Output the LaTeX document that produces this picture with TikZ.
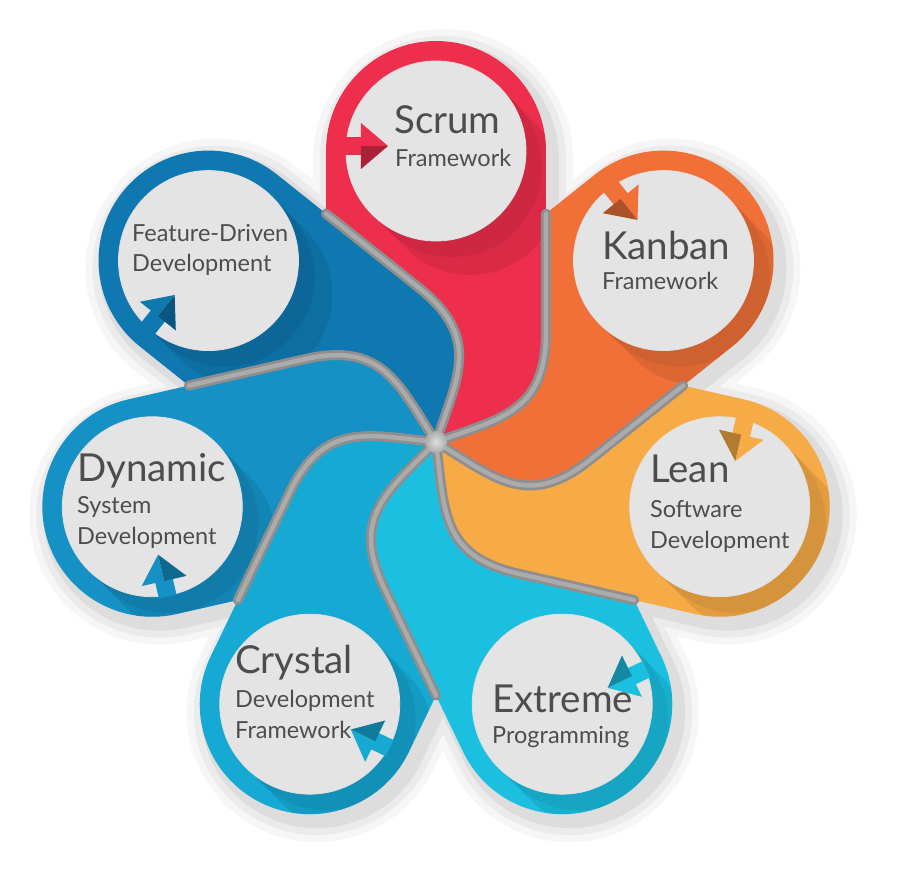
\documentclass[tikz,border=0pt]{standalone}
\usepackage{fontspec}
\setmainfont{Lato}
\usetikzlibrary{calc}
\definecolor{cScrum}{HTML}{EE2E4D}
\definecolor{cKanban}{HTML}{F07038}
\definecolor{cLean}{HTML}{F7AB46}
\definecolor{cExtreme}{HTML}{1BC0E1}
\definecolor{cCrystal}{HTML}{15A9D4}
\definecolor{cDynamic}{HTML}{1591C5}
\definecolor{cFDD}{HTML}{0F78B0}
\definecolor{circfill}{HTML}{E4E4E4}
\definecolor{sepgray}{HTML}{8E8E8E}
\definecolor{seplight}{HTML}{ABABAB}
\definecolor{txt}{HTML}{4D4D4D}
\newcommand\petalshape{(0,0) .. controls (22.4,66.6) and (45.1,104.7) .. (-17.4,154.6) -- (-110,228.4) -- (-110,291) arc[start angle=180,end angle=0,radius=110] -- (110,110) .. controls (110,30) and (66,24) .. (0,0) -- cycle}
\newcommand\sepline{(110,228.4) -- (110,110) .. controls (110,30) and (66,24) .. (0,0)}
\tikzset{
  title/.style={anchor=base west, inner sep=0pt, text=txt, font=\fontsize{38.5}{42}\selectfont},
  sub/.style={anchor=base west, inner sep=0pt, text=txt, font=\fontsize{23.5}{27}\selectfont},
  disc/.style={circle, fill=circfill, draw=black!12, line width=0.8pt, minimum size=180pt, inner sep=0pt},
  sepdark/.style={draw=sepgray, line width=10pt, line cap=round},
  seplite/.style={draw=seplight, line width=4.5pt, line cap=round},
}
\begin{document}
\begin{tikzpicture}[x=1pt,y=1pt]
\useasboundingbox (-436,-447) rectangle (467,442);
\fill[white] (-436,-447) rectangle (467,442);
\foreach \k in {0,...,6} \coordinate (c\k) at ({90-\k*360/7}:291);
% soft outer shadow
\foreach \w/\o in {40/0.035, 26/0.045, 12/0.06} {
  \begin{scope}[transparency group, opacity=\o, shift={(7,-8)}]
    \foreach \k in {0,...,6} \filldraw[black, line width=\w pt, line join=round, rotate=-\k*360/7] \petalshape;
  \end{scope}
}
% petals
\foreach \k/\c in {0/cScrum,1/cKanban,2/cLean,3/cExtreme,4/cCrystal,5/cDynamic,6/cFDD}
  \fill[\c, rotate=-\k*360/7] \petalshape;
% long shadows of the discs
\foreach \k/\c in {0/cScrum,1/cKanban,2/cLean,3/cExtreme,4/cCrystal,5/cDynamic,6/cFDD} {
  \begin{scope}
    \clip[rotate=-\k*360/7] \petalshape;
    \fill[\c!72!black, opacity=0.28] ($(c\k)+(45:90)$) -- ++(34,-34) arc[start angle=45,end angle=-135,radius=90] -- ($(c\k)+(225:90)$) -- cycle;
    \fill[\c!72!black, opacity=0.28] ($(c\k)+(45:90)$) -- ++(16,-16) arc[start angle=45,end angle=-135,radius=90] -- ($(c\k)+(225:90)$) -- cycle;
  \end{scope}
}
% separators
\foreach \k in {0,...,6} \draw[sepdark, rotate=-\k*360/7] \sepline;
\foreach \k in {0,...,6} \draw[seplite, rotate=-\k*360/7] \sepline;
\node[circle, minimum size=22pt, inner sep=0pt, shading=radial, inner color=gray!25, outer color=seplight] (hub) at (0,0) {};
% discs
\node[disc] (scrum) at (c0) {};
\node[disc] (kanban) at (c1) {};
\node[disc] (lean) at (c2) {};
\node[disc] (extreme) at (c3) {};
\node[disc] (crystal) at (c4) {};
\node[disc] (dynamic) at (c5) {};
\node[disc] (fdd) at (c6) {};
% arrows
\foreach \k/\c in {0/cScrum,1/cKanban,2/cLean,3/cExtreme,4/cCrystal,5/cDynamic,6/cFDD} {
  \begin{scope}[rotate=-\k*360/7, shift={(0,291)}]
    \fill[\c] (-91,14) rectangle (-74,-4);
    \fill[\c] (-75,28) -- (-48,5) -- (-75,5) -- cycle;
    \fill[\c!72!black] (-75,5) -- (-48,5) -- (-75,-18) -- cycle;
  \end{scope}
}
% texts
\node[title] (t1a) at (-42,308) {Scrum};
\node[sub]   (t1b) at (-41,275) {Framework};
\node[title] (t2a) at (166,182) {Kanban};
\node[sub]   (t2b) at (166,152) {Framework};
\node[title] (t3a) at (214,-41) {Lean};
\node[sub]   (t3b) at (214,-75) {Software};
\node[sub]   (t3c) at (214,-106) {Development};
\node[title] (t4a) at (56,-270) {Extreme};
\node[sub]   (t4b) at (56,-301) {Programming};
\node[title] (t5a) at (-201,-231) {Crystal};
\node[sub]   (t5b) at (-201,-265) {Development};
\node[sub]   (t5c) at (-201,-296) {Framework};
\node[title] (t6a) at (-359,-39) {Dynamic};
\node[sub]   (t6b) at (-359,-71) {System};
\node[sub]   (t6c) at (-359,-102) {Development};
\node[sub]   (t7a) at (-304,200) {Feature-Driven};
\node[sub]   (t7b) at (-304,170) {Development};
\end{tikzpicture}
\end{document}
